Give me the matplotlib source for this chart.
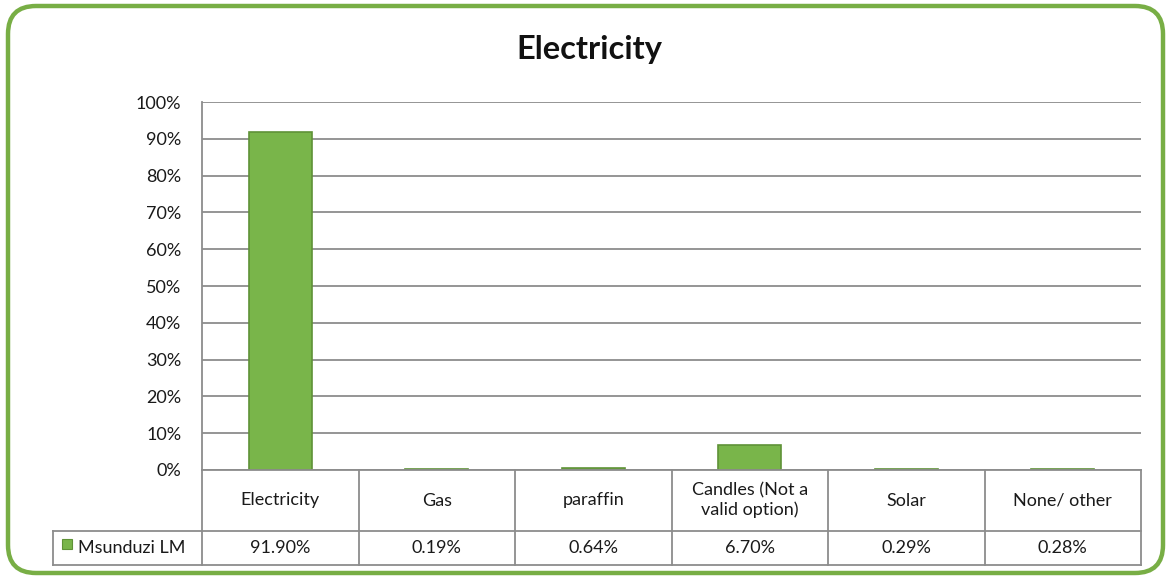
import matplotlib
matplotlib.use("Agg")
import matplotlib.pyplot as plt
from matplotlib.patches import FancyBboxPatch, Rectangle
import matplotlib.transforms as mtransforms

categories = ["Electricity", "Gas", "paraffin", "Candles (Not a\nvalid option)", "Solar", "None/ other"]
values = [91.90, 0.19, 0.64, 6.70, 0.29, 0.28]
value_labels = ["91.90%", "0.19%", "0.64%", "6.70%", "0.29%", "0.28%"]
series_name = "Msunduzi LM"
title = "Electricity"
yticks = [0, 10, 20, 30, 40, 50, 60, 70, 80, 90, 100]

plt.rcParams['font.family'] = ['Lato', 'DejaVu Sans']
W, H = 1171, 579
fig = plt.figure(figsize=(W / 100, H / 100), dpi=100)

# background frame axes in pixel coords
bg = fig.add_axes([0, 0, 1, 1], zorder=0)
bg.set_xlim(0, W)
bg.set_ylim(H, 0)
bg.axis("off")
frame = FancyBboxPatch((8, 6), W - 16, H - 12,
                       boxstyle="round,pad=0,rounding_size=28",
                       facecolor="white", edgecolor="#78AE45", linewidth=3.2)
bg.add_patch(frame)

green = "#79B54A"
edge = "#5F9237"
grid_c = "#8C8C8C"
txt_c = "#1a1a1a"
fs = 13

ax = fig.add_axes([202 / W, 1 - 470 / H, (1141 - 202) / W, (470 - 102) / H], zorder=2)
ax.set_facecolor("none")
n = len(categories)
xs = [i + 0.5 for i in range(n)]
ax.bar(xs, [v / 100 for v in values], width=0.4, color=green, edgecolor=edge, linewidth=1.2, zorder=3)
ax.set_xlim(0, n)
ax.set_ylim(0, 1)
ax.set_yticks([t / 100 for t in yticks])
ax.set_yticklabels([f"{t}%" for t in yticks], fontsize=fs, color=txt_c)
ax.tick_params(axis="y", length=0, pad=15)
ax.set_xticks([])
ax.yaxis.grid(True, color=grid_c, linewidth=1.3, zorder=0)
ax.set_axisbelow(True)
for s in ["top", "right", "bottom"]:
    ax.spines[s].set_visible(False)
ax.spines["left"].set_color(grid_c)
ax.spines["left"].set_linewidth(1.3)

bg.text(589, 50, title, ha="center", va="center", fontsize=23.5, fontweight="bold", color="#111111")

# table below
tr = mtransforms.blended_transform_factory(ax.transData, ax.transAxes)
ph = 470 - 102
r1 = -(531 - 470) / ph
r2 = -(565 - 470) / ph
leg_x = -(202 - 53) / ((1141 - 202) / n)
lk = dict(color=grid_c, linewidth=1.3, transform=tr, clip_on=False, zorder=4)
ax.plot([0, n], [0, 0], **lk)
ax.plot([leg_x, n], [r1, r1], **lk)
ax.plot([leg_x, n], [r2, r2], **lk)
for i in range(n + 1):
    ax.plot([i, i], [0, r2], **lk)
ax.plot([leg_x, leg_x], [r1, r2], **lk)

for i, (c, v) in enumerate(zip(categories, value_labels)):
    ax.text(i + 0.5, r1 / 2, c, transform=tr, ha="center", va="center",
            fontsize=fs, color=txt_c, linespacing=1.2, clip_on=False)
    ax.text(i + 0.5, (r1 + r2) / 2, v, transform=tr, ha="center", va="center",
            fontsize=fs, color=txt_c, clip_on=False)

# legend cell
bg.add_patch(Rectangle((62, 539), 10, 10, facecolor=green, edgecolor=edge, linewidth=0.8, zorder=5))
bg.text(78, 548, series_name, ha="left", va="center", fontsize=fs, color=txt_c, zorder=5)

fig.savefig("out.png", dpi=100)
